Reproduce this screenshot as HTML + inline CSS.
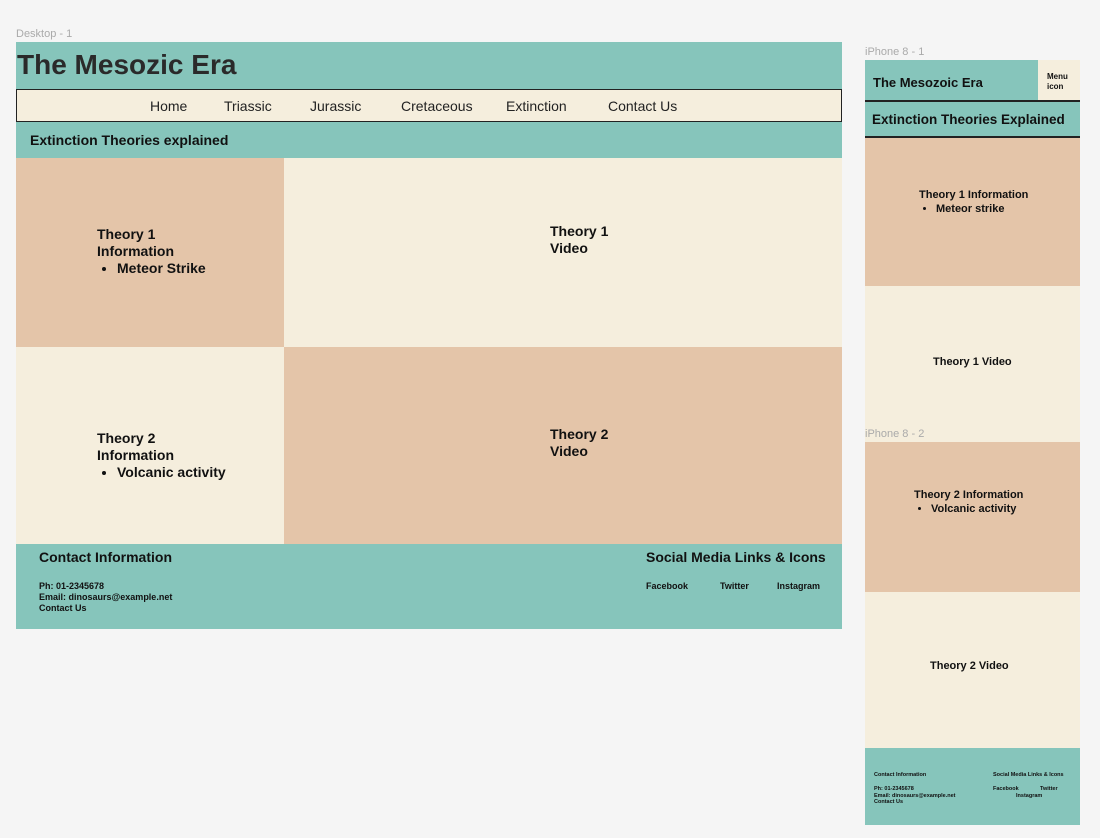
<!DOCTYPE html>
<html><head><meta charset="utf-8"><style>
*{margin:0;padding:0;box-sizing:border-box}
body{width:1100px;height:838px;background:#f5f5f5;position:relative;overflow:hidden;font-family:"Liberation Sans",sans-serif;color:#111}
div{position:absolute}
.teal{background:#86c5bb}.beige{background:#f5eedd}.peach{background:#e4c5a9}
.b{font-weight:bold}
.lbl{color:#aaa;font-size:11px;z-index:5}
ul{margin:0;padding-left:20px}
</style></head><body>
<div class="lbl" style="left:16px;top:28px">Desktop - 1</div>
<div class="lbl" style="left:865px;top:46px">iPhone 8 - 1</div>
<div class="lbl" style="left:865px;top:428px">iPhone 8 - 2</div>

<!-- Desktop -->
<div class="teal" style="left:16px;top:42px;width:826px;height:47px">
  <div class="b" style="left:1px;top:7px;font-size:28px;color:#2a2a2a">The Mesozic Era</div>
</div>
<div class="beige" style="left:16px;top:89px;width:826px;height:33px;border:1.5px solid #222;font-size:14px;color:#222">
  <div style="left:133px;top:8px">Home</div>
  <div style="left:207px;top:8px">Triassic</div>
  <div style="left:293px;top:8px">Jurassic</div>
  <div style="left:384px;top:8px">Cretaceous</div>
  <div style="left:489px;top:8px">Extinction</div>
  <div style="left:591px;top:8px">Contact Us</div>
</div>
<div class="teal" style="left:16px;top:122px;width:826px;height:36px">
  <div class="b" style="left:14px;top:10px;font-size:14px">Extinction Theories explained</div>
</div>
<div class="peach" style="left:16px;top:158px;width:268px;height:189px">
  <div class="b" style="left:81px;top:68px;font-size:14px;line-height:17px">Theory 1<br>Information<ul><li>Meteor Strike</li></ul></div>
</div>
<div class="beige" style="left:284px;top:158px;width:558px;height:189px">
  <div class="b" style="left:266px;top:65px;font-size:14px;line-height:17px">Theory 1<br>Video</div>
</div>
<div class="beige" style="left:16px;top:347px;width:268px;height:197px">
  <div class="b" style="left:81px;top:83px;font-size:14px;line-height:17px">Theory 2<br>Information<ul><li>Volcanic activity</li></ul></div>
</div>
<div class="peach" style="left:284px;top:347px;width:558px;height:197px">
  <div class="b" style="left:266px;top:79px;font-size:14px;line-height:17px">Theory 2<br>Video</div>
</div>
<div class="teal" style="left:16px;top:544px;width:826px;height:85px">
  <div class="b" style="left:23px;top:5px;font-size:14px">Contact Information</div>
  <div class="b" style="left:23px;top:37px;font-size:9px;line-height:11px">Ph: 01-2345678<br>Email: dinosaurs@example.net<br>Contact Us</div>
  <div class="b" style="left:630px;top:5px;font-size:14px">Social Media Links &amp; Icons</div>
  <div class="b" style="left:630px;top:37px;font-size:9px">Facebook</div>
  <div class="b" style="left:704px;top:37px;font-size:9px">Twitter</div>
  <div class="b" style="left:761px;top:37px;font-size:9px">Instagram</div>
</div>

<!-- Mobile -->
<div class="teal" style="left:865px;top:60px;width:215px;height:42px;border-bottom:2px solid #222">
  <div class="b" style="left:8px;top:15px;font-size:13px">The Mesozoic Era</div>
</div>
<div class="beige" style="left:1038px;top:60px;width:42px;height:40px">
  <div class="b" style="left:9px;top:12px;font-size:8px;line-height:10px">Menu<br>icon</div>
</div>
<div class="teal" style="left:865px;top:102px;width:215px;height:36px;border-bottom:2px solid #222">
  <div class="b" style="left:7px;top:10px;font-size:13.5px">Extinction Theories Explained</div>
</div>
<div class="peach" style="left:865px;top:138px;width:215px;height:148px">
  <div class="b" style="left:54px;top:50px;font-size:11px;line-height:14px">Theory 1 Information<ul style="padding-left:17px"><li>Meteor strike</li></ul></div>
</div>
<div class="beige" style="left:865px;top:286px;width:215px;height:156px">
  <div class="b" style="left:68px;top:70px;font-size:11px">Theory 1 Video</div>
</div>
<div class="peach" style="left:865px;top:442px;width:215px;height:150px">
  <div class="b" style="left:49px;top:46px;font-size:11px;line-height:14px">Theory 2 Information<ul style="padding-left:17px"><li>Volcanic activity</li></ul></div>
</div>
<div class="beige" style="left:865px;top:592px;width:215px;height:156px">
  <div class="b" style="left:65px;top:68px;font-size:11px">Theory 2 Video</div>
</div>
<div class="teal" style="left:865px;top:748px;width:215px;height:77px;font-size:5.5px">
  <div class="b" style="left:9px;top:24px">Contact Information</div>
  <div class="b" style="left:9px;top:38px;line-height:6.5px">Ph: 01-2345678<br>Email: dinosaurs@example.net<br>Contact Us</div>
  <div class="b" style="left:128px;top:24px">Social Media Links &amp; Icons</div>
  <div class="b" style="left:128px;top:38px">Facebook</div>
  <div class="b" style="left:175px;top:38px">Twitter</div>
  <div class="b" style="left:151px;top:45px">Instagram</div>
</div>
</body></html>
